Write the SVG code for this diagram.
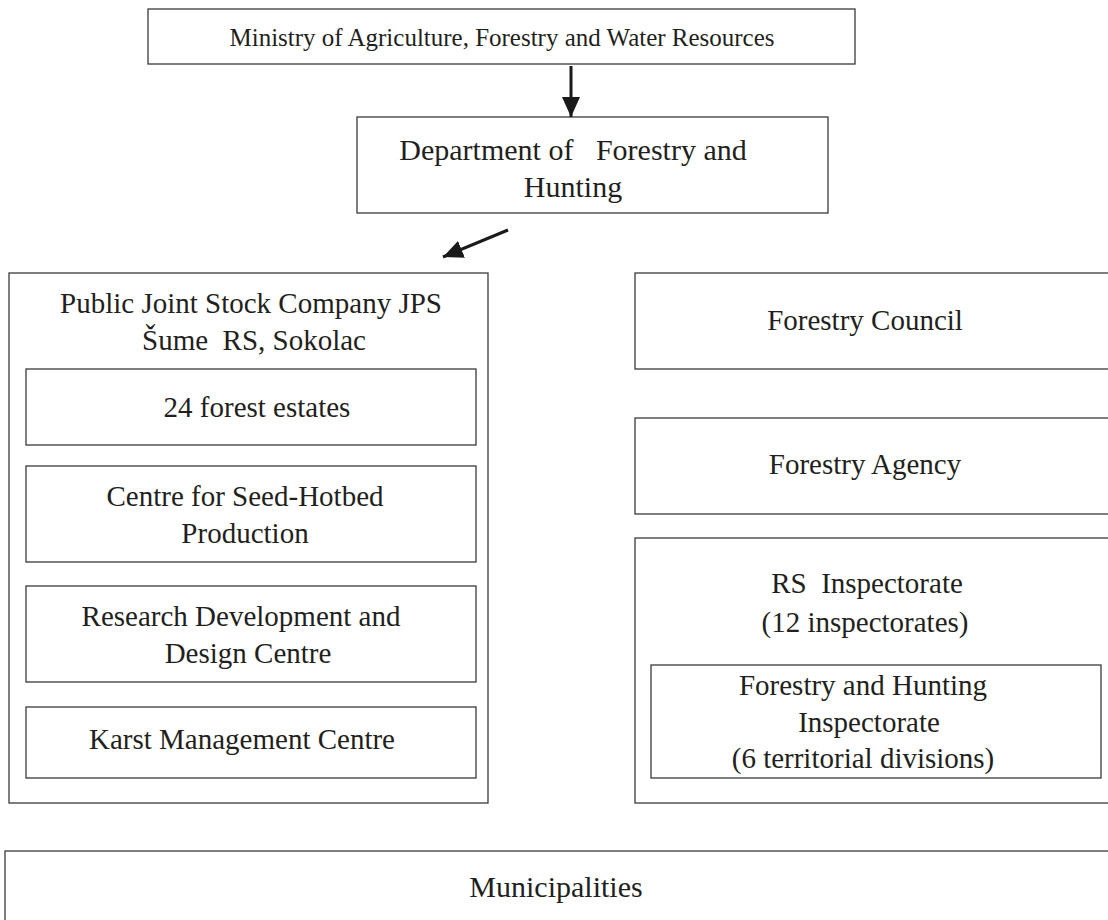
<svg xmlns="http://www.w3.org/2000/svg" width="1108" height="920" viewBox="0 0 1108 920">
<style>
.box{fill:#fff;stroke:#3a3a3a;stroke-width:1.3}
.t{font-family:"Liberation Serif","Times New Roman",serif;font-size:29px;fill:#231f20;text-anchor:middle;white-space:pre}
.conn{stroke:#1a1a1a;stroke-width:3;fill:none}
</style>
<defs>
<marker id="ah" markerUnits="userSpaceOnUse" markerWidth="22" markerHeight="22" viewBox="0 0 22 22" refX="20" refY="11" orient="auto">
<path d="M0,2 L20,11 L0,20 Z" fill="#1a1a1a"/>
</marker>
</defs>
<rect width="1108" height="920" fill="#fff"/>
<g id="ministry">
<rect class="box" x="148" y="9" width="707" height="55"/>
<text class="t" x="502" y="46" style="font-size:26px" textLength="545" lengthAdjust="spacingAndGlyphs">Ministry of Agriculture, Forestry and Water Resources</text>
</g>
<g id="department">
<rect class="box" x="357" y="117" width="471" height="96"/>
<text class="t" x="573" y="160" style="font-size:30px">Department of   Forestry and</text>
<text class="t" x="573" y="197" style="font-size:30px">Hunting</text>
</g>
<g id="jps">
<rect class="box" x="9" y="273" width="479" height="530"/>
<text class="t" x="251" y="313">Public Joint Stock Company JPS</text>
<text class="t" x="254" y="350">Šume  RS, Sokolac</text>
</g>
<g id="forest-estates">
<rect class="box" x="26" y="369" width="450" height="76"/>
<text class="t" x="257" y="417">24 forest estates</text>
</g>
<g id="seed-centre">
<rect class="box" x="26" y="466" width="450" height="96"/>
<text class="t" x="245" y="506">Centre for Seed-Hotbed</text>
<text class="t" x="245" y="543">Production</text>
</g>
<g id="research-centre">
<rect class="box" x="26" y="586" width="450" height="96"/>
<text class="t" x="241" y="626">Research Development and</text>
<text class="t" x="248" y="663">Design Centre</text>
</g>
<g id="karst-centre">
<rect class="box" x="26" y="707" width="450" height="71"/>
<text class="t" x="242" y="749">Karst Management Centre</text>
</g>
<g id="forestry-council">
<rect class="box" x="635" y="273" width="490" height="96"/>
<text class="t" x="865" y="330">Forestry Council</text>
</g>
<g id="forestry-agency">
<rect class="box" x="635" y="418" width="490" height="96"/>
<text class="t" x="865" y="474">Forestry Agency</text>
</g>
<g id="rs-inspectorate">
<rect class="box" x="635" y="538" width="490" height="265"/>
<text class="t" x="867" y="593">RS  Inspectorate</text>
<text class="t" x="865" y="632">(12 inspectorates)</text>
</g>
<g id="fh-inspectorate">
<rect class="box" x="651" y="665" width="450" height="113"/>
<text class="t" x="863" y="695">Forestry and Hunting</text>
<text class="t" x="869" y="732">Inspectorate</text>
<text class="t" x="863" y="768">(6 territorial divisions)</text>
</g>
<g id="municipalities">
<rect class="box" x="5" y="851" width="1120" height="90"/>
<text class="t" x="556" y="897" style="font-size:30px">Municipalities</text>
</g>
<g id="connectors">
<line class="conn" x1="571" y1="66" x2="571" y2="117" marker-end="url(#ah)"/>
<line class="conn" x1="508" y1="230" x2="443" y2="257" marker-end="url(#ah)"/>
</g>
</svg>
